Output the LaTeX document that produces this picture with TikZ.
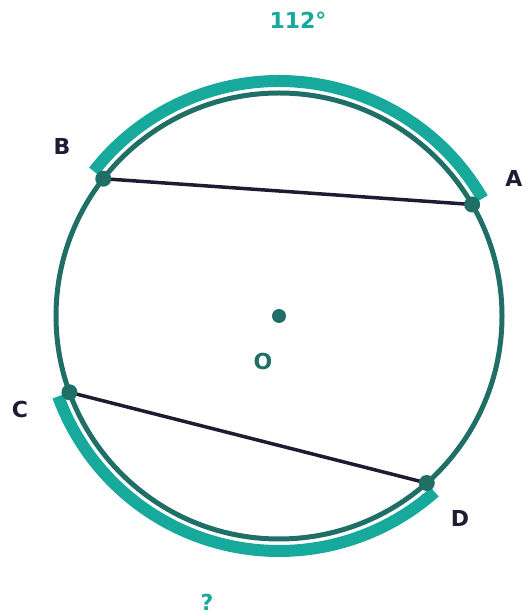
\documentclass[tikz,border=0pt]{standalone}
\usepackage{fontspec}
\setmainfont{DejaVu Sans}
\usetikzlibrary{positioning}
\definecolor{ringcol}{HTML}{1F6F66}
\definecolor{arccol}{HTML}{17A99B}
\definecolor{chordcol}{HTML}{1E1B32}

\tikzset{
  pt/.style={circle,fill=ringcol,inner sep=0pt,minimum size=16pt},
  lbl/.style={font=\fontsize{22}{22}\selectfont\bfseries,text=chordcol},
  arcband/.style={arccol,line width=12pt},
  chord/.style={chordcol,line width=3.5pt}
}

\begin{document}
\begin{tikzpicture}[x=1pt,y=1pt]
\useasboundingbox (0,0) rectangle (526,615);
\node[circle,fill=ringcol,inner sep=0pt,minimum size=14pt] (O) at (279,299) {};
\draw[ringcol,line width=5pt] (O.center) circle[radius=223];
% arcs outside the circle
\draw[arcband] (O.center) ++(30:235) arc[start angle=30,end angle=142,radius=235];
\draw[arcband] (O.center) ++(200:235) arc[start angle=200,end angle=311.5,radius=235];
\path (O.center) ++(30:223) coordinate (a);
\path (O.center) ++(142:223) coordinate (b);
\path (O.center) ++(200:223) coordinate (c);
\path (O.center) ++(311.5:223) coordinate (d);
\draw[chord] (b) -- (a);
\draw[chord] (c) -- (d);
\node[pt] (A) at (a) {};
\node[pt] (B) at (b) {};
\node[pt] (C) at (c) {};
\node[pt] (D) at (d) {};
\node[lbl] (lA) at (514,437) {A};
\node[lbl] (lB) at (62,469) {B};
\node[lbl] (lC) at (20,206) {C};
\node[lbl] (lD) at (460,97) {D};
\node[lbl,text=ringcol] (lO) at (263,254) {O};
\node[lbl,text=arccol] (arcAB) at (298,595) {112°};
\node[lbl,text=arccol] (arcCD) at (207,13) {?};
\end{tikzpicture}
\end{document}
